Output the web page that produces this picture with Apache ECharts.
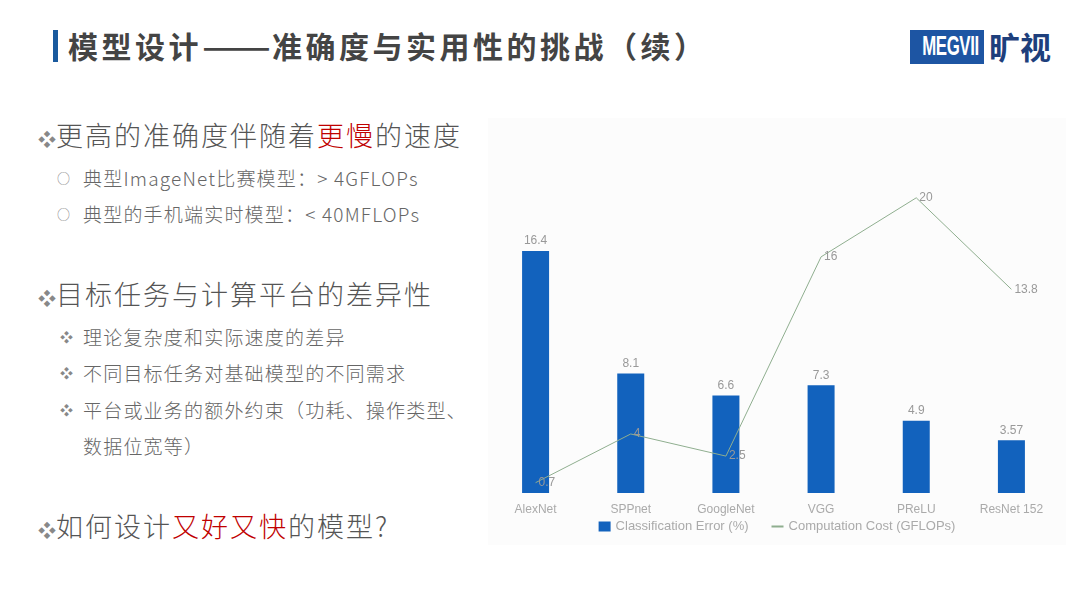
<!DOCTYPE html>
<html>
<head>
<meta charset="utf-8">
<script src="https://cdn.jsdelivr.net/npm/echarts@6/dist/echarts.min.js"></script>
<style>
  html, body { margin: 0; padding: 0; background: #fff; }
  body { width: 1080px; height: 604px; position: relative; overflow: hidden;
         font-family: "Noto Sans CJK SC", "Noto Sans", sans-serif; }
  .t { position: absolute; white-space: nowrap; line-height: 1; }
  .title-bar { position: absolute; left: 53px; top: 30px; width: 5px; height: 32px; background: #1a5a9e; }
  .title { left: 68px; top: 30px; font-size: 30px; letter-spacing: 3.5px; font-weight: bold; color: #444; }
  .dash { display: inline-block; transform: scaleX(1.35); transform-origin: left center; margin-right: 19px; letter-spacing: 0; }
  .logo-box { position: absolute; left: 910px; top: 30px; width: 74px; height: 34px; background: #1d55a3;
              overflow: hidden; text-align: center; line-height: 34px; }
  .logo-box span { display: inline-block; color: #fff; font: bold 24px "Liberation Sans", sans-serif;
                   transform: scale(0.7, 1.15); letter-spacing: -0.5px; }
  .logo-cn { left: 989px; top: 30px; font-size: 31px; font-weight: bold; color: #1e3f7c; }
  .h1 { font-size: 27px; letter-spacing: 2px; color: #555; font-weight: 300; }
  .h2 { font-size: 19px; letter-spacing: 1.2px; color: #666; font-weight: 300; }
  .red { color: #c00000; }
  .dot { font-size: 13px; color: #888; letter-spacing: 0; }
  #chart { position: absolute; left: 488px; top: 118px; width: 578px; height: 427px; background: #fcfcfc; }
</style>
</head>
<body>
<div class="title-bar"></div>
<div class="t title">模型设计<span class="dash">——</span>准确度与实用性的挑战（续）</div>
<div class="logo-box"><span>MEGVII</span></div>
<div class="t logo-cn">旷视</div>

<div class="t h1" style="left:38px;top:121px;"><span class="dot" style="font-size:18px">❖</span>更高的准确度伴随着<span class="red">更慢</span>的速度</div>
<div class="t dot" style="left:57px;top:171px;">○</div>
<div class="t h2" style="left:83px;top:168px;">典型ImageNet比赛模型：&gt; 4GFLOPs</div>
<div class="t dot" style="left:57px;top:207px;">○</div>
<div class="t h2" style="left:83px;top:204px;">典型的手机端实时模型：&lt; 40MFLOPs</div>

<div class="t h1" style="left:38px;top:280px;"><span class="dot" style="font-size:18px">❖</span>目标任务与计算平台的差异性</div>
<div class="t dot" style="left:60px;top:330px;">❖</div>
<div class="t h2" style="left:83px;top:327px;">理论复杂度和实际速度的差异</div>
<div class="t dot" style="left:60px;top:366px;">❖</div>
<div class="t h2" style="left:83px;top:363px;">不同目标任务对基础模型的不同需求</div>
<div class="t dot" style="left:60px;top:403px;">❖</div>
<div class="t h2" style="left:83px;top:400px;">平台或业务的额外约束（功耗、操作类型、</div>
<div class="t h2" style="left:83px;top:436px;">数据位宽等）</div>

<div class="t h1" style="left:38px;top:512px;"><span class="dot" style="font-size:18px">❖</span>如何设计<span class="red">又好又快</span>的模型?</div>

<div id="chart"></div>

<script>
const models = ['AlexNet', 'SPPnet', 'GoogleNet', 'VGG', 'PReLU', 'ResNet 152']
const classificationError = [16.4, 8.1, 6.6, 7.3, 4.9, 3.57]
const computationCost = [0.7, 4, 2.5, 16, 20, 13.8]

const chart = echarts.init(document.getElementById('chart'))
chart.setOption({
  animation: false,
  textStyle: { fontFamily: 'Liberation Sans, Arial, sans-serif' },
  grid: { left: 0, right: 7, top: 6, bottom: 52 },
  legend: {
    bottom: 7,
    left: 'center',
    itemGap: 22,
    itemWidth: 12,
    itemHeight: 10,
    textStyle: { color: '#aaa', fontSize: 13 },
    data: [
      { name: 'Classification Error (%)', icon: 'rect' },
      { name: 'Computation Cost (GFLOPs)', itemStyle: { opacity: 0 } }
    ]
  },
  xAxis: {
    type: 'category',
    data: models,
    axisLine: { show: false },
    axisTick: { show: false },
    axisLabel: { color: '#aaa', fontSize: 12, margin: 11 }
  },
  yAxis: {
    type: 'value',
    min: 0,
    max: 25,
    show: false
  },
  series: [
    {
      name: 'Classification Error (%)',
      type: 'bar',
      data: classificationError,
      barWidth: 27,
      itemStyle: { color: '#1262bd' },
      label: { show: true, position: 'top', color: '#999', fontSize: 12, distance: 4 }
    },
    {
      name: 'Computation Cost (GFLOPs)',
      type: 'line',
      data: computationCost,
      symbol: 'circle',
      symbolSize: 0,
      lineStyle: { color: '#8fae8f', width: 1 },
      itemStyle: { color: '#8fae8f' },
      label: { show: true, position: 'right', color: '#999', fontSize: 12, distance: 3 }
    }
  ]
})
</script>
</body>
</html>
